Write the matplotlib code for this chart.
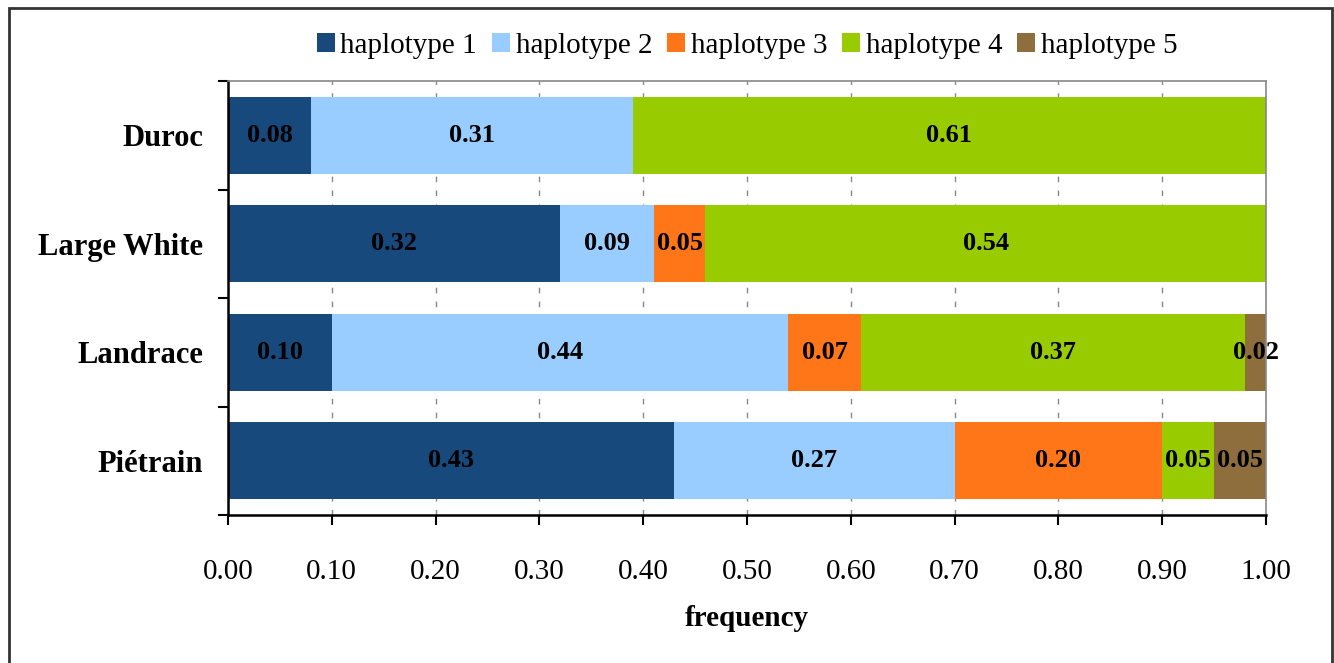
import numpy as np
import matplotlib.pyplot as plt
from matplotlib.patches import Rectangle

breeds = ['Duroc', 'Large White', 'Landrace', 'Piétrain']
haplotypes = ['haplotype 1', 'haplotype 2', 'haplotype 3', 'haplotype 4', 'haplotype 5']
hap1 = [0.08, 0.32, 0.10, 0.43]
hap2 = [0.31, 0.09, 0.44, 0.27]
hap3 = [0.00, 0.05, 0.07, 0.20]
hap4 = [0.61, 0.54, 0.37, 0.05]
hap5 = [0.00, 0.00, 0.02, 0.05]
colors = ['#17497c', '#99ccff', '#ff7619', '#99cc00', '#8e6e3c']

plt.rcParams['font.family'] = ['Liberation Serif', 'DejaVu Serif']

fig = plt.figure(figsize=(13.34, 6.63), dpi=100)
ax = fig.add_axes([0.1709, 0.2232, 0.7781, 0.6546])

# frame around the whole picture
fig.patches.append(Rectangle((9 / 1334, -0.05), 1323 / 1334, 1.05 - 8 / 663,
                             transform=fig.transFigure, fill=False,
                             edgecolor='#333333', linewidth=2, clip_on=False))

y = np.arange(len(breeds))
left = np.zeros(len(breeds))
for name, vals, c in zip(haplotypes, [hap1, hap2, hap3, hap4, hap5], colors):
    vals = np.array(vals)
    ax.barh(y, vals, left=left, height=0.71, color=c, label=name, zorder=2)
    for i, v in enumerate(vals):
        if v > 0:
            ax.text(left[i] + v / 2, y[i], f'{v:.2f}', ha='center', va='center',
                    fontsize=19, fontweight='bold', color='black', zorder=3)
    left += vals

ax.set_xlim(0, 1)
ax.set_ylim(3.5, -0.5)
ax.set_xticks(np.arange(0, 1.01, 0.1))
ax.set_xticklabels([f'{t:.2f}' for t in np.arange(0, 1.01, 0.1)], fontsize=21)
ax.set_yticks(y)
ax.set_yticklabels(breeds, fontsize=22, fontweight='bold')
ax.set_yticks(np.arange(-0.5, 3.6, 1), minor=True)
ax.tick_params(axis='y', which='major', length=0, pad=18)
ax.tick_params(axis='y', which='minor', length=7, width=1.5, direction='out')
ax.tick_params(axis='x', length=7, width=1.5, direction='out', pad=25)
ax.grid(axis='x', linestyle=(0, (4, 6)), color='#888888', linewidth=1, zorder=0)

for s in ['left', 'bottom']:
    ax.spines[s].set_linewidth(1.8)
    ax.spines[s].set_color('black')
for s in ['top', 'right']:
    ax.spines[s].set_linewidth(1.2)
    ax.spines[s].set_color('#888888')

ax.set_xlabel('frequency', fontsize=21, fontweight='bold', labelpad=14)

ax.legend(loc='lower center', bbox_to_anchor=(0.5, 1.025), ncol=5, frameon=False,
          fontsize=21, handlelength=0.62, handleheight=0.62, handletextpad=0.2,
          columnspacing=0.5, borderaxespad=0)

fig.savefig('out.png', dpi=100)
